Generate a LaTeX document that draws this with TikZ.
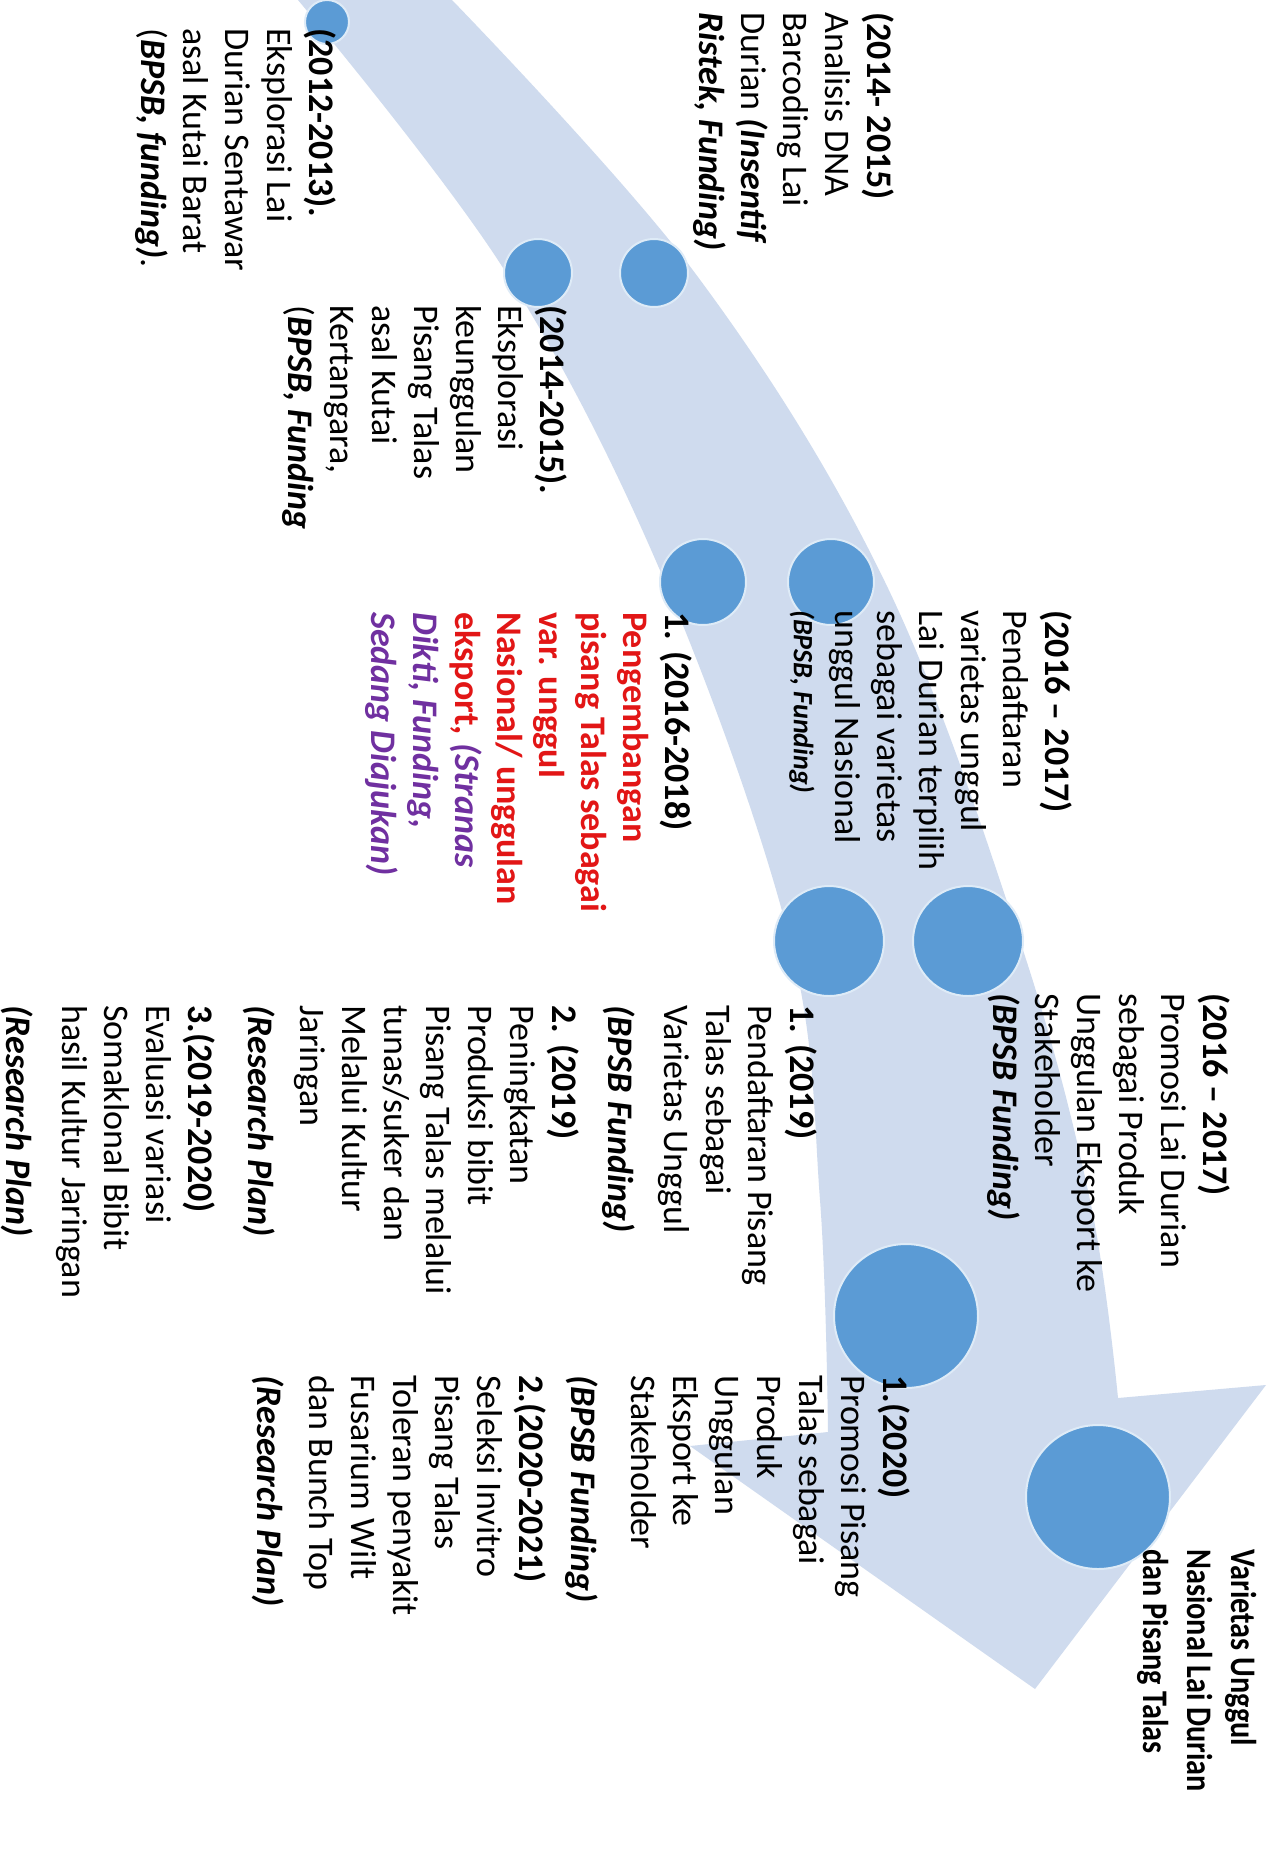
\documentclass[tikz,border=0pt]{standalone}
\usepackage{fontspec}
\setmainfont{Carlito}
\usepackage{tikz}
\usetikzlibrary{positioning}

\definecolor{bandblue}{RGB}{207,219,238}
\definecolor{dotblue}{RGB}{91,155,213}
\definecolor{dotedge}{RGB}{222,235,247}
\definecolor{tred}{RGB}{226,22,22}
\definecolor{tpurple}{RGB}{112,48,160}

\newcommand{\tlyear}[1]{\textbf{#1}}
\newcommand{\tlfund}[1]{\textbf{\textit{#1}}}
\newcommand{\tlred}[1]{\textcolor{tred}{\textbf{#1}}}
\newcommand{\tlpurple}[1]{\textcolor{tpurple}{\textbf{\textit{#1}}}}

\begin{document}
\begin{tikzpicture}[x=0.5pt, y=-0.5pt,
    roundnode/.style={circle, fill=dotblue, draw=dotedge, line width=1pt, inner sep=0pt},
    txtnode/.style={rotate=-90, anchor=north west, align=left, inner sep=0pt, font=\fontsize{18}{21}\selectfont}
]
\useasboundingbox (0,0) rectangle (1268,1876);
\fill[white] (0,0) rectangle (1268,1876);

\fill[bandblue] plot[smooth, tension=0.6] coordinates {(298,0) (505,271) (665,582) (790,941) (820,1200) (828,1432)}
  -- (690,1446) -- (1035,1689) -- (1266,1385) -- (1118,1398)
  -- plot[smooth, tension=0.6] coordinates {(1118,1398) (1090,1200) (1020,941) (885,582) (695,273) (452,0)} -- cycle;

\node[roundnode, minimum size=22pt](c1) at (327,22){};
\node[roundnode, minimum size=34pt](c2) at (538,273){};
\node[roundnode, minimum size=34pt](c3)[right = 23pt of c2]{};
\node[roundnode, minimum size=43pt](c4) at (703,582){};
\node[roundnode, minimum size=43pt](c5)[right = 20pt of c4]{};
\node[roundnode, minimum size=55pt](c6) at (829,941){};
\node[roundnode, minimum size=55pt](c7)[right = 13.5pt of c6]{};
\node[roundnode, minimum size=72pt](c8) at (906,1316){};
\node[roundnode, minimum size=72pt](c9) at (1098,1497){};

\node[txtnode](t1) at (337,28){\tlyear{(2012-2013).}\\ Eksplorasi Lai\\ Durian Sentawar\\ asal Kutai Barat\\ (\tlfund{BPSB, funding)}.};
\node[txtnode](t2) at (895,12){\tlyear{(2014- 2015)}\\ Analisis DNA\\ Barcoding Lai\\ Durian \tlfund{(Insentif}\\ \tlfund{Ristek, Funding)}};
\node[txtnode](t3) at (568,305){\tlyear{(2014-2015).}\\ Eksplorasi\\ keunggulan\\ Pisang Talas\\ asal Kutai\\ Kertangara,\\ (\tlfund{BPSB, Funding}};
\node[txtnode](t4) at (1073,610){\tlyear{(2016 – 2017)}\\ Pendaftaran\\ varietas unggul\\ Lai Durian terpilih\\ sebagai varietas\\ unggul Nasional\\ {\fontsize{14}{16}\selectfont\tlfund{(BPSB, Funding)}}};
\node[txtnode](t5) at (1231,993){\tlyear{(2016 – 2017)}\\ Promosi Lai Durian\\ sebagai Produk\\ Unggulan Eksport ke\\ Stakeholder\\ \tlfund{(BPSB Funding)}};
\node[txtnode](t6) at (693,612){\tlyear{1. (2016-2018)}\\ \tlred{Pengembangan}\\ \tlred{pisang Talas sebagai}\\ \tlred{var. unggul}\\ \tlred{Nasional/ unggulan}\\ \tlred{eksport,} \tlpurple{(Stranas}\\ \tlpurple{Dikti, Funding,}\\ \tlpurple{Sedang Diajukan)}};
\node[txtnode](t7) at (818,1005){\tlyear{1. (2019)}\\ Pendaftaran Pisang\\ Talas sebagai\\ Varietas Unggul\\[7pt] \tlfund{(BPSB Funding)}\\[7pt] \tlyear{2. (2019)}\\ Peningkatan\\ Produksi bibit\\ Pisang Talas melalui\\ tunas/suker dan\\ Melalui Kultur\\ Jaringan\\[5pt] \tlfund{(Research Plan)}\\[9pt] \tlyear{3.(2019-2020)}\\ Evaluasi variasi\\ Somaklonal Bibit\\ hasil Kultur Jaringan\\[7pt] \tlfund{(Research Plan)}};
\node[txtnode](t8) at (911,1375){\tlyear{1.(2020)}\\ Promosi Pisang\\ Talas sebagai\\ Produk\\ Unggulan\\ Eksport ke\\ Stakeholder\\[9pt] \tlfund{(BPSB Funding)}\\[5pt] \tlyear{2.(2020-2021)}\\ Seleksi Invitro\\ Pisang Talas\\ Toleran penyakit\\ Fusarium Wilt\\ dan Bunch Top\\[5pt] \tlfund{(Research Plan)}};
\node[txtnode, font=\fontsize{18}{22}\selectfont\bfseries, xscale=0.84](t9) at (1257,1549){Varietas Unggul\\ Nasional Lai Durian\\ dan Pisang Talas};
\end{tikzpicture}
\end{document}
